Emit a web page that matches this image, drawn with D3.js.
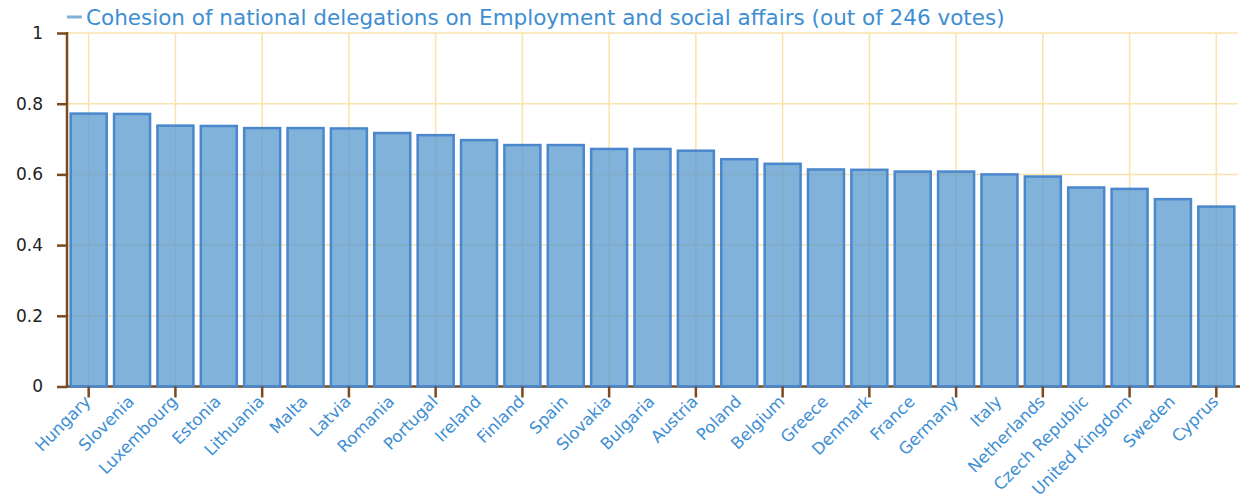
<!DOCTYPE html>
<html>
<head>
<meta charset="utf-8">
<script src="https://cdn.jsdelivr.net/npm/d3@7"></script>
<style>
	body { margin: 0; background: #fff; }
	text { font-family: Verdana, "DejaVu Sans", sans-serif; }
</style>
</head>
<body>
<script>
// data
var countries = ["Hungary","Slovenia","Luxembourg","Estonia","Lithuania","Malta","Latvia","Romania","Portugal","Ireland",
	"Finland","Spain","Slovakia","Bulgaria","Austria","Poland","Belgium","Greece","Denmark","France",
	"Germany","Italy","Netherlands","Czech Republic","United Kingdom","Sweden","Cyprus"];
var cohesion = [0.772,0.771,0.738,0.737,0.731,0.731,0.730,0.717,0.711,0.697,
	0.683,0.683,0.672,0.672,0.667,0.643,0.630,0.614,0.613,0.608,
	0.608,0.600,0.594,0.563,0.559,0.530,0.509];
var yTicks = [0, 0.2, 0.4, 0.6, 0.8, 1];
var seriesName = "Cohesion of national delegations on Employment and social affairs (out of 246 votes)";

var params = {
	width: 1244, height: 499,
	left: 67, right: 1238, top: 33, bottom: 386.5,
	axisColor: "#7b4a1e", gridColor: "#fae3ac", labelColor: "#3d8ed3"
};

var svg = d3.select("body").append("svg")
	.attr("width", params.width)
	.attr("height", params.height);

var x = d3.scaleBand()
	.domain(countries)
	.range([params.left, params.right])
	.paddingInner(0.17)
	.paddingOuter(0.085);

var y = d3.scaleLinear()
	.domain([0, 1])
	.range([params.bottom, params.top]);

var everyOther = countries.filter(function(d, i){ return i % 2 == 0; });
function cx(d){ return x(d) + x.bandwidth()/2; }

// gridlines
svg.append("g").selectAll("line")
	.data(yTicks.slice(1)).enter().append("line")
		.attr("x1", params.left).attr("x2", params.right)
		.attr("y1", function(d){ return y(d); })
		.attr("y2", function(d){ return y(d); })
		.style("stroke", params.gridColor).style("stroke-width", 1.5);

svg.append("g").selectAll("line")
	.data(everyOther).enter().append("line")
		.attr("x1", cx).attr("x2", cx)
		.attr("y1", params.top).attr("y2", params.bottom)
		.style("stroke", params.gridColor).style("stroke-width", 1.5);

// x axis line
svg.append("line")
	.attr("x1", params.left).attr("x2", params.right + 2)
	.attr("y1", params.bottom).attr("y2", params.bottom)
	.style("stroke", params.axisColor).style("stroke-width", 2.5);

// bars
svg.append("g").selectAll("rect")
	.data(cohesion).enter().append("rect")
		.attr("x", function(d, i){ return x(countries[i]); })
		.attr("width", x.bandwidth())
		.attr("y", function(d){ return y(d); })
		.attr("height", function(d){ return y(0) - y(d); })
		.style("fill", "rgb(86,152,206)")
		.style("fill-opacity", 0.75)
		.style("stroke", "#4a87cc")
		.style("stroke-width", 2.5);

// y axis
var yAxis = svg.append("g")
	.attr("transform", "translate(" + params.left + ",0)")
	.call(d3.axisLeft(y).tickValues(yTicks).tickSize(10).tickPadding(14)
		.tickFormat(function(d){ return d3.format("~g")(d); }));
yAxis.select(".domain").remove();
yAxis.selectAll(".tick line").style("stroke", params.axisColor).style("stroke-width", 2.5);
yAxis.selectAll(".tick text")
	.style("font-size", "17px")
	.style("fill", "#222");
yAxis.append("line")
	.attr("x1", 0).attr("x2", 0)
	.attr("y1", params.top - 1).attr("y2", params.bottom + 1)
	.style("stroke", params.axisColor).style("stroke-width", 2.5);

// x ticks on every other category
svg.append("g").selectAll("line")
	.data(everyOther).enter().append("line")
		.attr("x1", cx).attr("x2", cx)
		.attr("y1", params.bottom).attr("y2", params.bottom + 11)
		.style("stroke", params.axisColor).style("stroke-width", 2.5);

// x labels, rotated
svg.append("g").selectAll("text")
	.data(countries).enter().append("text")
		.attr("transform", function(d){
			return "translate(" + (cx(d) - 1) + "," + (params.bottom + 12) + ")rotate(-45)";
		})
		.attr("text-anchor", "end")
		.attr("dy", "0.35em")
		.style("font-size", "16.5px")
		.style("fill", params.labelColor)
		.text(function(d){ return d; });

// legend / title
svg.append("line")
	.attr("x1", params.left).attr("x2", params.left + 15)
	.attr("y1", 17).attr("y2", 17)
	.style("stroke", "#7fb1d9").style("stroke-width", 3);
svg.append("text")
	.attr("x", params.left + 19)
	.attr("y", 25)
	.style("font-size", "21.5px")
	.style("fill", params.labelColor)
	.text(seriesName);
</script>
</body>
</html>
